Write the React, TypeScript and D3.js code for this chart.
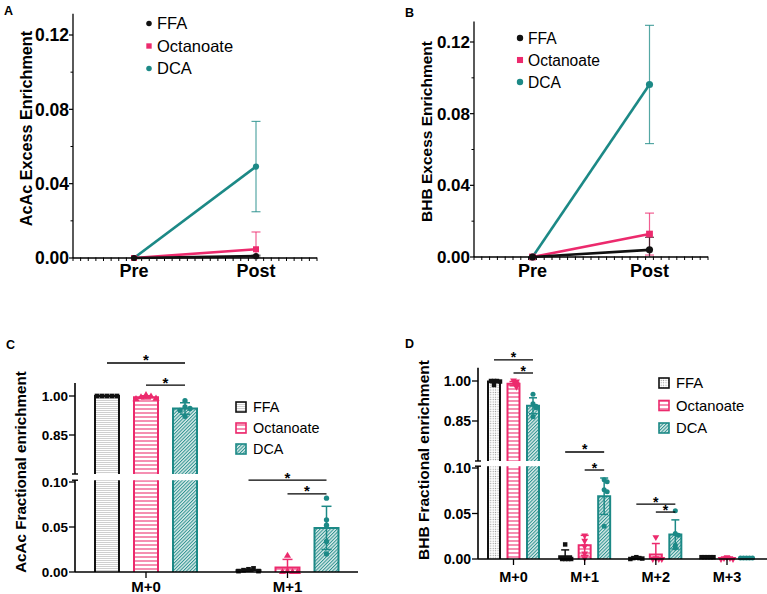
import React from "react";
import * as d3 from "d3";

const FONT = "Arial, 'Liberation Sans', Helvetica, sans-serif";
const PINK = "#EC2A6D";
const TEAL = "#1C8986";
const BLACK = "#111111";

// ---------- series ----------
const seriesNames = ["FFA", "Octanoate", "DCA"];
const seriesColors = [BLACK, PINK, TEAL];

// ---------- panels A & B (excess enrichment) ----------
const timeLabels = ["Pre", "Post"];
const acacExcessMean = [[0, 0.001], [0, 0.0047], [0, 0.0492]];
const acacExcessSD = [[0, 0.0005], [0, 0.0093], [0, 0.0243]];
const bhbExcessMean = [[0, 0.004], [0, 0.0128], [0, 0.0963]];
const bhbExcessSD = [[0, 0.007], [0, 0.0117], [0, 0.033]];
const excessTicks = [0, 0.04, 0.08, 0.12];
const excessMinorTicks = [0.02, 0.06, 0.1];

// ---------- panel C (AcAc fractional enrichment) ----------
const acacGroups = ["M+0", "M+1"];
const acacFracMean = [[1.0, 0.002], [0.995, 0.005], [0.952, 0.049]];
const acacFracSD = [[0.001, 0.001], [0.006, 0.009], [0.022, 0.024]];
const acacFracPoints = [
  [[1, 1, 1, 1, 1], [0.003, 0.004, 0.002, 0.001, 0.001]],
  [[1.003, 0.998, 0.995, 0.99, 0.988], [0.018, 0.001, 0.0, 0.0, 0.0]],
  [[0.982, 0.958, 0.952, 0.945, 0.922], [0.082, 0.058, 0.052, 0.034, 0.02]],
];
const acacSig = [
  { group: "M+0", from: 0, to: 2, level: 1.127 },
  { group: "M+0", from: 1, to: 2, level: 1.042 },
  { group: "M+1", from: 0, to: 2, level: 0.102 },
  { group: "M+1", from: 1, to: 2, level: 0.0867 },
];

// ---------- panel D (BHB fractional enrichment) ----------
const bhbGroups = ["M+0", "M+1", "M+2", "M+3"];
const bhbFracMean = [
  [0.998, 0.003, 0.001, 0.002],
  [0.99, 0.015, 0.005, 0.001],
  [0.907, 0.069, 0.027, 0.001],
];
const bhbFracSD = [
  [0.004, 0.007, 0.001, 0.0004],
  [0.008, 0.011, 0.012, 0.001],
  [0.03, 0.02, 0.016, 0.0004],
];
const bhbFracPoints = [
  [[1, 1, 1, 0.998, 0.985], [0.016, 0, 0, 0, 0], [0.002, 0.001, 0.001, 0.0005, 0], [0.002, 0.002, 0.002, 0.002, 0.002]],
  [[1.002, 0.998, 0.99, 0.985, 0.978], [0.026, 0.02, 0.014, 0.006, 0.001], [0.024, 0.001, 0, 0, 0], [0.002, 0.001, 0.001, 0, 0]],
  [[0.95, 0.915, 0.905, 0.9, 0.866], [0.087, 0.085, 0.076, 0.074, 0.036], [0.053, 0.028, 0.026, 0.015, 0.012], [0.001, 0.001, 0.001, 0.001, 0.001]],
];
const bhbSig = [
  { group: "M+0", from: 0, to: 2, level: 1.079 },
  { group: "M+0", from: 1, to: 2, level: 1.03 },
  { group: "M+1", from: 0, to: 2, level: 0.1176 },
  { group: "M+1", from: 1, to: 2, level: 0.0978 },
  { group: "M+2", from: 0, to: 2, level: 0.0604 },
  { group: "M+2", from: 1, to: 2, level: 0.0516 },
];
const fracUpperTicks = [0.85, 1.0];
const fracLowerTicks = [0, 0.05, 0.1];

const fmt = d3.format(".2f");

// ---------------- Line panel ----------------
function LinePanel(p: any) {
  const y = d3.scaleLinear().domain([0, 0.12]).range([p.y0, p.y12]);
  const x = d3.scalePoint<string>().domain(timeLabels).range([p.axisX, p.axisEnd]).padding(0.5);
  const line = d3.line<number>().x((_d, i) => x(timeLabels[i])!).y((d) => y(d));
  const symbols = [d3.symbolCircle, d3.symbolSquare, d3.symbolCircle];
  const sizes = [p.circleArea, p.squareArea, p.circleArea];
  const order = [2, 1, 0];
  const minor = d3.range(p.minorCount + 1).map((i) => p.axisX + (i * (p.axisEnd - p.axisX)) / p.minorCount);
  return (
    <g fontFamily={FONT}>
      <text x={p.letterX} y={p.letterY} fontSize={12.5} fontWeight="bold">{p.letter}</text>
      <line x1={p.axisX} x2={p.axisX} y1={y(0)} y2={y(0.1315)} stroke="#000" strokeWidth={1.3} />
      {excessTicks.map((t) => (
        <g key={t}>
          <line x1={p.axisX - 4} x2={p.axisX} y1={y(t)} y2={y(t)} stroke="#000" strokeWidth={1.2} />
          <text x={p.axisX - 4} y={y(t)} dy="0.36em" textAnchor="end" fontSize={p.tickFont} fontWeight="bold">{fmt(t)}</text>
        </g>
      ))}
      {excessMinorTicks.map((t) => (
        <line key={t} x1={p.axisX - 2.5} x2={p.axisX} y1={y(t)} y2={y(t)} stroke="#000" strokeWidth={1} />
      ))}
      <text transform={`translate(${p.titleX},${p.titleY}) rotate(-90)`} textAnchor="middle" fontSize={p.titleFont} fontWeight="bold">{p.title}</text>
      <line x1={p.axisX} x2={p.axisEnd} y1={y(0)} y2={y(0)} stroke="#000" strokeWidth={1.4} />
      {minor.map((mx, i) => (
        <line key={i} x1={mx} x2={mx} y1={y(0) - 0.5} y2={y(0) + 3} stroke="#000" strokeWidth={1} />
      ))}
      {timeLabels.map((t) => (
        <text key={t} x={x(t)} y={p.xLabelY} textAnchor="middle" fontSize={18} fontWeight="bold">{t}</text>
      ))}
      {order.map((s) =>
        p.means[s].map((m: number, i: number) => {
          const sd = p.sds[s][i];
          if (!sd) return null;
          const cx = x(timeLabels[i])!;
          const lo = Math.max(0, m - sd);
          return (
            <g key={`e${s}-${i}`} stroke={seriesColors[s]} strokeOpacity={0.75} strokeWidth={1.2}>
              <line x1={cx} x2={cx} y1={y(lo)} y2={y(m + sd)} />
              <line x1={cx - 4.5} x2={cx + 4.5} y1={y(m + sd)} y2={y(m + sd)} />
              {m - sd > 0 && <line x1={cx - 4.5} x2={cx + 4.5} y1={y(m - sd)} y2={y(m - sd)} />}
            </g>
          );
        })
      )}
      {order.map((s) => (
        <g key={`l${s}`}>
          <path d={line(p.means[s])!} fill="none" stroke={seriesColors[s]} strokeWidth={2.6} />
          {p.means[s].map((m: number, i: number) => (
            <path key={i} transform={`translate(${x(timeLabels[i])},${y(m)})`} d={d3.symbol(symbols[s], sizes[s])()!} fill={seriesColors[s]} />
          ))}
        </g>
      ))}
      {seriesNames.map((n, s) => {
        const ly = p.legendY0 + s * p.legendDy;
        return (
          <g key={n}>
            <path transform={`translate(${p.legendX},${ly})`} d={d3.symbol(symbols[s], sizes[s] * 0.8)()!} fill={seriesColors[s]} />
            <text x={p.legendX + 8} y={ly} dy="0.36em" fontSize={p.legendFont}>{n}</text>
          </g>
        );
      })}
    </g>
  );
}

// ---------------- Bar panel with broken axis ----------------
function Patterns({ id, ffaDots }: { id: string; ffaDots: boolean }) {
  return (
    <defs>
      {ffaDots ? (
        <pattern id={`${id}-0`} width={2.4} height={2.4} patternUnits="userSpaceOnUse">
          <rect width={2.4} height={2.4} fill="#fff" />
          <circle cx={1.2} cy={1.2} r={0.6} fill="#8c8c8c" />
        </pattern>
      ) : (
        <pattern id={`${id}-0`} width={4} height={2} patternUnits="userSpaceOnUse">
          <rect width={4} height={2} fill="#fff" />
          <rect x={0} y={0} width={4} height={0.8} fill="#c4c4c4" />
        </pattern>
      )}
      <pattern id={`${id}-1`} width={4} height={4} patternUnits="userSpaceOnUse">
        <rect width={4} height={4} fill="#fff" />
        <line x1={0} x2={4} y1={1} y2={1} stroke={PINK} strokeOpacity={0.7} strokeWidth={1.5} />
      </pattern>
      <pattern id={`${id}-2`} width={2.4} height={2.4} patternUnits="userSpaceOnUse" patternTransform="rotate(45)">
        <rect width={2.4} height={2.4} fill="#d9ebe9" />
        <line x1={0.5} x2={0.5} y1={0} y2={2.4} stroke={TEAL} strokeOpacity={0.9} strokeWidth={1} />
      </pattern>
    </defs>
  );
}

function swarm(vals: number[], yf: (v: number) => number, size: number) {
  const placed: { y: number }[] = [];
  return vals.map((v) => {
    const py = yf(v);
    const near = placed.filter((q) => Math.abs(q.y - py) < size * 0.9).length;
    const dx = near === 0 ? 0 : (near % 2 ? 1 : -1) * Math.ceil(near / 2) * size;
    placed.push({ y: py });
    return { y: py, dx };
  });
}

function BarPanel(p: any) {
  const x = d3.scalePoint<string>().domain(p.groups).range([p.gFirst, p.gLast]);
  const xs = d3.scaleBand<string>().domain(seriesNames).range([-p.gw / 2, p.gw / 2]).paddingInner(0.385).paddingOuter(0.1925);
  const bw = xs.bandwidth();
  const yLow = d3.scaleLinear().domain([0, 0.1]).range([p.yL0, p.yL10]);
  const yUp = d3.scaleLinear().domain([0.85, 1.0]).range([p.yU85, p.yU100]);
  const yv = (v: number) => (v > 0.5 ? yUp(v) : yLow(v));
  const lowTop = yLow(0.102);
  const upBottom = yUp(0.7);
  const upTop = yUp(1.05);
  const markerTypes = [d3.symbolSquare, d3.symbolTriangle, d3.symbolCircle];
  const cx = (g: string, s: number) => x(g)! + xs(seriesNames[s])! + bw / 2;
  return (
    <g fontFamily={FONT}>
      <Patterns id={p.id} ffaDots={p.ffaDots} />
      <text x={p.letterX} y={p.letterY} fontSize={12.5} fontWeight="bold">{p.letter}</text>
      {seriesNames.map((n, s) =>
        p.groups.map((g: string, gi: number) => {
          const v = p.means[s][gi];
          const left = x(g)! + xs(n)!;
          const right = left + bw;
          const parts: [number, number, boolean][] = v > 0.5
            ? [[p.yL0, lowTop, false], [upBottom, yUp(v), true]]
            : [[p.yL0, yLow(v), true]];
          return (
            <g key={`b${s}-${gi}`}>
              {parts.map(([yb, yt, top], k) => (
                <g key={k}>
                  <rect x={left} y={yt} width={bw} height={Math.max(0, yb - yt)} fill={`url(#${p.id}-${s})`} />
                  <path
                    d={top ? `M${left},${yb}V${yt}H${right}V${yb}` : `M${left},${yb}V${yt}M${right},${yt}V${yb}`}
                    fill="none" stroke={seriesColors[s]} strokeWidth={2} strokeLinejoin="miter"
                  />
                </g>
              ))}
            </g>
          );
        })
      )}
      {seriesNames.map((n, s) =>
        p.groups.map((g: string, gi: number) => {
          const m = p.means[s][gi];
          const sd = p.sds[s][gi];
          const c = cx(g, s);
          const pts = swarm(p.points[s][gi], yv, p.markerStep);
          return (
            <g key={`e${s}-${gi}`}>
              <g stroke={seriesColors[s]} strokeWidth={1.5}>
                <line x1={c} x2={c} y1={yv(Math.max(0, m - sd))} y2={yv(m + sd)} />
                <line x1={c - p.cap / 2} x2={c + p.cap / 2} y1={yv(m + sd)} y2={yv(m + sd)} />
                <line x1={c - p.cap / 2} x2={c + p.cap / 2} y1={yv(Math.max(0, m - sd))} y2={yv(Math.max(0, m - sd))} />
              </g>
              {pts.map((pt, k) => (
                <path key={k} transform={`translate(${c + pt.dx},${pt.y})${s === 1 && p.triDown ? " rotate(180)" : ""}`}
                  d={d3.symbol(markerTypes[s], p.markerArea)()!} fill={seriesColors[s]} />
              ))}
            </g>
          );
        })
      )}
      <line x1={p.axisX} x2={p.axisX} y1={p.yL0} y2={lowTop} stroke="#000" strokeWidth={1.6} />
      <line x1={p.axisX} x2={p.axisX} y1={upBottom} y2={upTop} stroke="#000" strokeWidth={1.6} />
      {[lowTop, upBottom].map((yy, i) => (
        <line key={i} x1={p.axisX - 3} x2={p.axisX + 3} y1={yy} y2={yy} stroke="#000" strokeWidth={1.4} />
      ))}
      {fracLowerTicks.map((t) => (
        <g key={`lt${t}`}>
          <line x1={p.axisX - 6} x2={p.axisX} y1={yLow(t)} y2={yLow(t)} stroke="#000" strokeWidth={1.3} />
          <text x={p.axisX - 7} y={yLow(t)} dy="0.36em" textAnchor="end" fontSize={p.tickFont} fontWeight="bold">{fmt(t)}</text>
        </g>
      ))}
      {fracUpperTicks.map((t) => (
        <g key={`ut${t}`}>
          <line x1={p.axisX - 6} x2={p.axisX} y1={yUp(t)} y2={yUp(t)} stroke="#000" strokeWidth={1.3} />
          <text x={p.axisX - 7} y={yUp(t)} dy="0.36em" textAnchor="end" fontSize={p.tickFont} fontWeight="bold">{fmt(t)}</text>
        </g>
      ))}
      <line x1={p.axisX} x2={p.axisEnd} y1={p.yL0} y2={p.yL0} stroke="#000" strokeWidth={1.6} />
      {p.groups.map((g: string) => (
        <g key={g}>
          <line x1={x(g)} x2={x(g)} y1={p.yL0} y2={p.yL0 + 6} stroke="#000" strokeWidth={1.3} />
          <text x={x(g)} y={p.xLabelY} textAnchor="middle" fontSize={p.xFont} fontWeight="bold">{g}</text>
        </g>
      ))}
      <text transform={`translate(${p.titleX},${p.titleY}) rotate(-90)`} textAnchor="middle" fontSize={p.titleFont} fontWeight="bold">{p.title}</text>
      {p.sig.map((b: any, i: number) => {
        const yy = yv(b.level);
        const x1 = cx(b.group, b.from);
        const x2 = cx(b.group, b.to);
        return (
          <g key={i}>
            <line x1={x1} x2={x2} y1={yy} y2={yy} stroke="#000" strokeWidth={1.3} />
            <text x={(x1 + x2) / 2} y={yy + 2.5} textAnchor="middle" fontSize={p.starFont} fontWeight="bold">*</text>
          </g>
        );
      })}
      {seriesNames.map((n, s) => {
        const ly = p.legendY0 + s * p.legendDy;
        return (
          <g key={n}>
            <rect x={p.legendX} y={ly - 5} width={10} height={10} fill={`url(#${p.id}-${s})`} stroke={seriesColors[s]} strokeWidth={1.6} />
            <text x={p.legendX + 17} y={ly} dy="0.36em" fontSize={p.legendFont}>{n}</text>
          </g>
        );
      })}
    </g>
  );
}

export default function App() {
  return (
    <svg width={767} height={594} style={{ position: "absolute", left: 0, top: 0, background: "#fff" }}>
      <rect width={767} height={594} fill="#fff" />
      <LinePanel
        letter="A" letterX={4} letterY={15}
        title="AcAc Excess Enrichment" titleX={32} titleY={128.5} titleFont={16.2}
        means={acacExcessMean} sds={acacExcessSD}
        axisX={73} axisEnd={317} y0={258} y12={35} tickFont={17.5} xLabelY={277}
        minorCount={32} circleArea={30} squareArea={36}
        legendX={149} legendY0={23.5} legendDy={22.5} legendFont={16.5}
      />
      <LinePanel
        letter="B" letterX={405} letterY={17}
        title="BHB Excess Enrichment" titleX={432} titleY={131.5} titleFont={15.5}
        means={bhbExcessMean} sds={bhbExcessSD}
        axisX={474} axisEnd={708} y0={257} y12={42} tickFont={17} xLabelY={277}
        minorCount={30} circleArea={40} squareArea={46}
        legendX={520} legendY0={38} legendDy={22} legendFont={15.6}
      />
      <BarPanel
        id="pc" letter="C" letterX={6} letterY={349} ffaDots={false} triDown={false}
        title="AcAc Fractional enrichment" titleX={26} titleY={472} titleFont={15.2}
        groups={acacGroups} means={acacFracMean} sds={acacFracSD} points={acacFracPoints} sig={acacSig}
        gFirst={146} gLast={287.5} gw={117} axisX={75} axisEnd={358}
        yL0={572} yL10={482} yU85={435} yU100={396}
        tickFont={13.5} xFont={15} xLabelY={592} starFont={15}
        cap={10} markerArea={22} markerStep={5}
        legendX={236} legendY0={407} legendDy={21} legendFont={14.4}
      />
      <BarPanel
        id="pd" letter="D" letterX={405} letterY={348} ffaDots={true} triDown={true}
        title="BHB Fractional enrichment" titleX={429} titleY={460} titleFont={15.5}
        groups={bhbGroups} means={bhbFracMean} sds={bhbFracSD} points={bhbFracPoints} sig={bhbSig}
        gFirst={513.5} gLast={727} gw={58.5} axisX={478} axisEnd={767}
        yL0={559} yL10={468} yU85={421} yU100={381}
        tickFont={14} xFont={14.5} xLabelY={582} starFont={14}
        cap={8} markerArea={20} markerStep={3}
        legendX={659} legendY0={383} legendDy={22.5} legendFont={14.8}
      />
    </svg>
  );
}
